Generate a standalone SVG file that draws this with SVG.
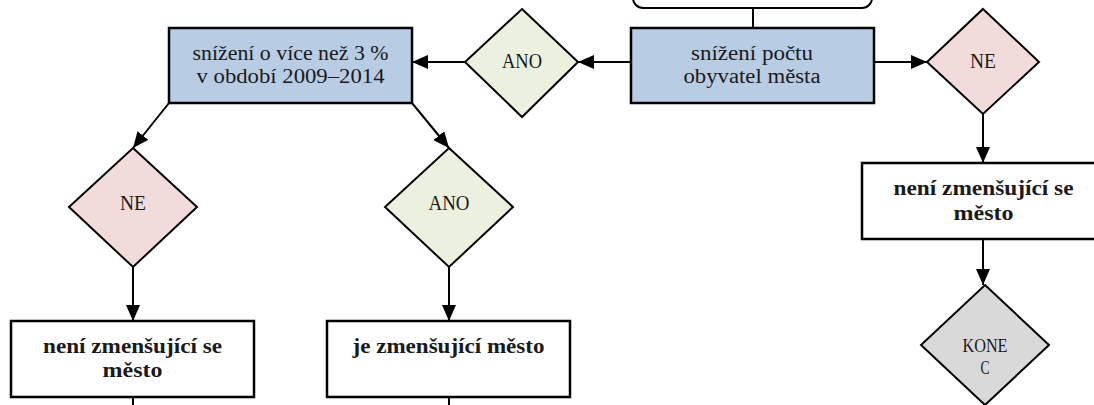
<svg xmlns="http://www.w3.org/2000/svg" width="1094" height="405" viewBox="0 0 1094 405">
<style>
text{font-family:"Liberation Serif","DejaVu Serif",serif;fill:#1a1a1a;text-anchor:middle}
.t{font-size:20px}
.b{font-size:20px;font-weight:bold}
.d{font-size:22px}
.k{font-size:18px}
.box{stroke:#000;stroke-width:2.5}
.blue{fill:#b8cce4}
.white{fill:#fff}
.dia{stroke:#000;stroke-width:2}
.ano{fill:#ebf1de}
.ne{fill:#f2dcdb}
.end{fill:#d9d9d9}
.c{stroke:#000;stroke-width:2;fill:none}
</style>
<defs>
<marker id="ah" markerUnits="userSpaceOnUse" markerWidth="16" markerHeight="14" refX="16" refY="7" orient="auto">
<path d="M0,0 L16,7 L0,14 z" fill="#000"/>
</marker>
</defs>
<rect width="1094" height="405" fill="#fff"/>
<g id="connectors">
<line class="c" x1="753" y1="8" x2="753" y2="28"/>
<line class="c" x1="631" y1="62" x2="578" y2="62" marker-end="url(#ah)"/>
<line class="c" x1="465" y1="62" x2="412" y2="62" marker-end="url(#ah)"/>
<line class="c" x1="874" y1="62" x2="927" y2="62" marker-end="url(#ah)"/>
<line class="c" x1="169" y1="103" x2="133" y2="148" marker-end="url(#ah)"/>
<line class="c" x1="412" y1="103" x2="449" y2="148" marker-end="url(#ah)"/>
<line class="c" x1="133" y1="267" x2="133" y2="321" marker-end="url(#ah)"/>
<line class="c" x1="449" y1="267" x2="449" y2="321" marker-end="url(#ah)"/>
<line class="c" x1="983" y1="114" x2="983" y2="163" marker-end="url(#ah)"/>
<line class="c" x1="983" y1="239" x2="983" y2="285" marker-end="url(#ah)"/>
<line class="c" x1="133" y1="397" x2="133" y2="406"/>
<line class="c" x1="449" y1="397" x2="449" y2="406"/>
</g>
<g id="start">
<rect x="633" y="-40" width="239" height="48" rx="10" fill="#fff" stroke="#000" stroke-width="2"/>
</g>
<g id="pokles">
<rect class="box blue" x="631" y="28" width="243" height="75"/>
<text class="t" x="752" y="60" textLength="122" lengthAdjust="spacingAndGlyphs">snížení počtu</text>
<text class="t" x="752" y="83" textLength="137" lengthAdjust="spacingAndGlyphs">obyvatel města</text>
</g>
<g id="ano1">
<polygon class="dia ano" points="522,9 578,62 522,117 465,62"/>
<text class="d" x="522" y="68" textLength="40" lengthAdjust="spacingAndGlyphs">ANO</text>
</g>
<g id="ne1">
<polygon class="dia ne" points="983,9 1039,62 983,114 927,62"/>
<text class="d" x="983" y="68" textLength="26" lengthAdjust="spacingAndGlyphs">NE</text>
</g>
<g id="pokles3">
<rect class="box blue" x="169" y="28" width="243" height="75"/>
<text class="t" x="290.5" y="60" textLength="196" lengthAdjust="spacingAndGlyphs">snížení o více než 3 %</text>
<text class="t" x="290.5" y="83" textLength="188" lengthAdjust="spacingAndGlyphs">v období 2009–2014</text>
</g>
<g id="ne2">
<polygon class="dia ne" points="133,148 197,207 133,267 69,207"/>
<text class="d" x="133" y="210" textLength="26" lengthAdjust="spacingAndGlyphs">NE</text>
</g>
<g id="ano2">
<polygon class="dia ano" points="449,148 513,207 449,267 385,207"/>
<text class="d" x="449" y="210" textLength="41" lengthAdjust="spacingAndGlyphs">ANO</text>
</g>
<g id="neni1">
<rect class="box white" x="11" y="321" width="243" height="76"/>
<text class="b" x="132.5" y="353" textLength="179" lengthAdjust="spacingAndGlyphs">není zmenšující se</text>
<text class="b" x="132.5" y="377" textLength="60" lengthAdjust="spacingAndGlyphs">město</text>
</g>
<g id="je">
<rect class="box white" x="327" y="321" width="243" height="76"/>
<text class="b" x="448.5" y="353" textLength="192" lengthAdjust="spacingAndGlyphs">je zmenšující město</text>
</g>
<g id="neni2">
<rect class="box white" x="862" y="163" width="243" height="76"/>
<text class="b" x="983.5" y="195" textLength="180" lengthAdjust="spacingAndGlyphs">není zmenšující se</text>
<text class="b" x="983.5" y="220" textLength="60" lengthAdjust="spacingAndGlyphs">město</text>
</g>
<g id="konec">
<polygon class="dia end" points="985,285 1049,345 985,405 921,345"/>
<text class="k" x="985" y="352" textLength="45" lengthAdjust="spacingAndGlyphs">KONE</text>
<text class="k" x="985" y="374" textLength="9" lengthAdjust="spacingAndGlyphs">C</text>
</g>
</svg>
